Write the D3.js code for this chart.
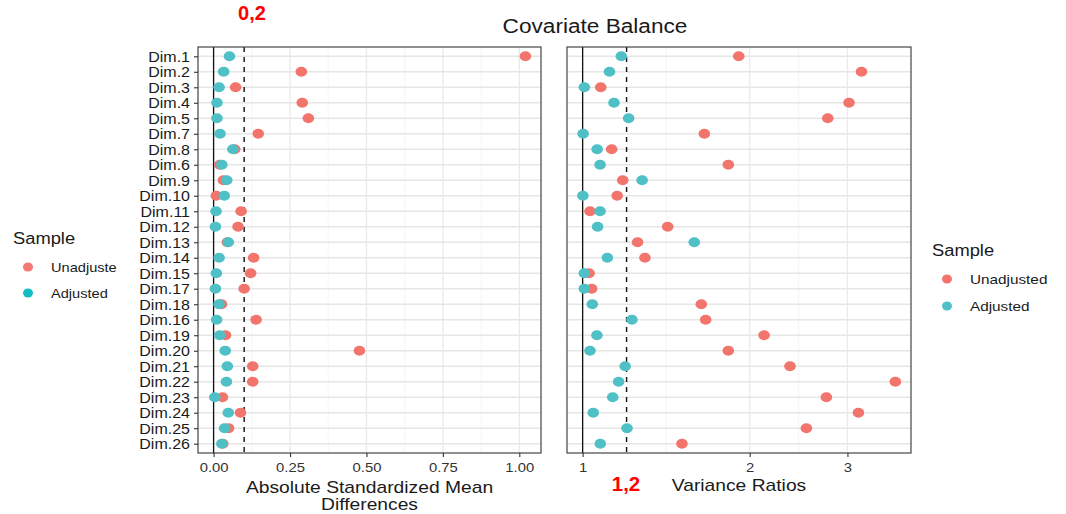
<!DOCTYPE html>
<html>
<head>
<meta charset="utf-8">
<script src="https://cdn.jsdelivr.net/npm/d3@7/dist/d3.min.js"></script>
<style>
  html, body { margin: 0; padding: 0; background: #fff; }
  svg { display: block; font-family: "Liberation Sans", Arial, Helvetica, sans-serif; }
</style>
</head>
<body>
<svg id="chart" width="1066" height="514"></svg>
<script>
// Covariates, in plotting order (top to bottom)
const dims = ["Dim.1","Dim.2","Dim.3","Dim.4","Dim.5","Dim.7","Dim.8","Dim.6","Dim.9","Dim.10",
  "Dim.11","Dim.12","Dim.13","Dim.14","Dim.15","Dim.17","Dim.18","Dim.16","Dim.19","Dim.20",
  "Dim.21","Dim.22","Dim.23","Dim.24","Dim.25","Dim.26"];

// Absolute standardized mean differences
const smdUnadjusted = [1.02,0.287,0.072,0.29,0.31,0.146,0.069,0.02,0.032,0.009,
  0.09,0.08,0.045,0.131,0.121,0.1,0.026,0.139,0.039,0.477,
  0.128,0.128,0.029,0.088,0.049,0.03];
const smdAdjusted = [0.052,0.033,0.018,0.011,0.011,0.021,0.063,0.027,0.043,0.035,
  0.008,0.006,0.048,0.018,0.009,0.006,0.018,0.01,0.02,0.038,
  0.045,0.042,0.004,0.048,0.036,0.027];

// Variance ratios
const vrUnadjusted = [1.911,3.18,1.078,3.02,2.765,1.657,1.128,1.83,1.181,1.154,
  1.031,1.423,1.256,1.295,1.027,1.038,1.636,1.666,2.123,1.83,
  2.364,3.66,2.749,3.14,2.53,1.51];
const vrAdjusted = [1.174,1.118,1.007,1.139,1.21,1.002,1.062,1.075,1.28,1.001,
  1.075,1.064,1.589,1.108,1.007,1.007,1.041,1.227,1.061,1.031,
  1.193,1.161,1.133,1.045,1.202,1.076];

const smdTicks = [0, 0.25, 0.5, 0.75, 1.0];
const vrTicks = [1, 2, 3];
const smdReference = 0, smdThreshold = 0.1;
const vrReference = 1, vrThreshold = 1.2;

const legendLeftLabels = ["Unadjuste", "Adjusted"];
const legendRightLabels = ["Unadjusted", "Adjusted"];
const titleText = "Covariate Balance";
const smdTitleLines = ["Absolute Standardized Mean", "Differences"];
const vrTitle = "Variance Ratios";
const smdNote = "0,2";
const vrNote = "1,2";

// ---- styling ----
const RED = "#F2756D", CYAN = "#4FC0C6";
const GRID = "#EBEBEB", MINOR = "#F3F3F3", BORDER = "#333333";
const SX = 1.16; // horizontal text stretch

const svg = d3.select("#chart");

function label(g, x, y, str, o = {}) {
  return g.append("text")
    .attr("transform", `translate(${x},${y}) scale(${o.sx ?? SX},1)`)
    .attr("text-anchor", o.anchor || "start")
    .attr("font-size", o.size || 13)
    .attr("font-weight", o.weight || "normal")
    .attr("fill", o.fill || "#1a1a1a")
    .text(str);
}

// Panels
const panelTop = 47, panelBottom = 453;
const L = { x0: 198, x1: 541 };
const R = { x0: 567, x1: 911 };

const y = d3.scalePoint().domain(dims).range([panelTop, panelBottom]).padding(0.6);

function expand(lo, hi, f = 0.05) { const d = (hi - lo) * f; return [lo - d, hi + d]; }

const smdAll = smdUnadjusted.concat(smdAdjusted, [smdReference, smdThreshold]);
const xL = d3.scaleLinear()
  .domain(expand(d3.min(smdAll), d3.max(smdAll)))
  .range([L.x0, L.x1]);

const vrAll = vrUnadjusted.concat(vrAdjusted, [vrReference, vrThreshold]);
const lg = expand(Math.log10(d3.min(vrAll)), Math.log10(d3.max(vrAll)));
const xR = d3.scaleLog()
  .domain([Math.pow(10, lg[0]), Math.pow(10, lg[1])])
  .range([R.x0, R.x1]);

function minorBreaks(scale, ticks, tf, inv) {
  const t = ticks.map(tf);
  const out = [];
  for (let i = 0; i < t.length - 1; i++) out.push(inv((t[i] + t[i + 1]) / 2));
  const dom = scale.domain();
  return out.filter(v => v >= dom[0] && v <= dom[1]);
}

function panel(P, x, ticks, minors, ref, thr, unadj, adj, fmt) {
  const g = svg.append("g");
  // minor vertical grid
  g.selectAll(".mn").data(minors).join("line")
    .attr("x1", d => x(d)).attr("x2", d => x(d))
    .attr("y1", panelTop).attr("y2", panelBottom)
    .attr("stroke", MINOR).attr("stroke-width", 0.8);
  // major vertical grid
  g.selectAll(".mj").data(ticks).join("line")
    .attr("x1", d => x(d)).attr("x2", d => x(d))
    .attr("y1", panelTop).attr("y2", panelBottom)
    .attr("stroke", GRID).attr("stroke-width", 1.4);
  // horizontal grid per covariate
  g.selectAll(".hz").data(dims).join("line")
    .attr("x1", P.x0).attr("x2", P.x1)
    .attr("y1", d => y(d)).attr("y2", d => y(d))
    .attr("stroke", "#E6E6E6").attr("stroke-width", 1.6);
  // reference & threshold lines
  g.append("line").attr("x1", x(ref)).attr("x2", x(ref))
    .attr("y1", panelTop).attr("y2", panelBottom)
    .attr("stroke", "#111").attr("stroke-width", 1.3);
  g.append("line").attr("x1", x(thr)).attr("x2", x(thr))
    .attr("y1", panelTop).attr("y2", panelBottom)
    .attr("stroke", "#111").attr("stroke-width", 1.4)
    .attr("stroke-dasharray", "5,5");
  // points: unadjusted first, adjusted on top
  g.selectAll(".pu").data(dims).join("ellipse")
    .attr("cx", (d, i) => x(unadj[i])).attr("cy", d => y(d))
    .attr("rx", 5.8).attr("ry", 5).attr("fill", RED);
  g.selectAll(".pa").data(dims).join("ellipse")
    .attr("cx", (d, i) => x(adj[i])).attr("cy", d => y(d))
    .attr("rx", 5.8).attr("ry", 5).attr("fill", CYAN);
  // border
  g.append("rect").attr("x", P.x0).attr("y", panelTop)
    .attr("width", P.x1 - P.x0).attr("height", panelBottom - panelTop)
    .attr("fill", "none").attr("stroke", BORDER).attr("stroke-width", 1.1);
  // bottom axis
  const ax = svg.append("g").attr("transform", `translate(0,${panelBottom})`)
    .call(d3.axisBottom(x).tickValues(ticks).tickSize(4).tickSizeOuter(0).tickFormat(fmt));
  ax.select(".domain").remove();
  ax.selectAll(".tick line").attr("stroke", BORDER).attr("stroke-width", 1.1);
  ax.selectAll(".tick text")
    .attr("y", 0).attr("dy", 0)
    .attr("transform", `translate(0,18.5) scale(${SX},1)`)
    .attr("font-size", 12.8).attr("fill", "#333")
    .attr("font-family", "Liberation Sans, Arial, sans-serif");
  return g;
}

const smdMinor = minorBreaks(xL, smdTicks, d => d, d => d);
const vrMinor = minorBreaks(xR, vrTicks, Math.log10, v => Math.pow(10, v));

panel(L, xL, smdTicks, smdMinor, smdReference, smdThreshold, smdUnadjusted, smdAdjusted, d3.format(".2f"));
panel(R, xR, vrTicks, vrMinor, vrReference, vrThreshold, vrUnadjusted, vrAdjusted, d3.format("d"));

// left axis with covariate names
const ay = svg.append("g").attr("transform", `translate(${L.x0},0)`)
  .call(d3.axisLeft(y).tickSize(4).tickSizeOuter(0));
ay.select(".domain").remove();
ay.selectAll(".tick line").attr("stroke", BORDER).attr("stroke-width", 1.1);
ay.selectAll(".tick text")
  .attr("x", 0).attr("dy", 0)
  .attr("transform", `translate(-8,5) scale(${SX},1)`)
  .attr("font-size", 13.8).attr("fill", "#1a1a1a")
  .attr("font-family", "Liberation Sans, Arial, sans-serif");

// titles
label(svg, 595, 33, titleText, { anchor: "middle", size: 19.5 });
label(svg, (L.x0 + L.x1) / 2, 493, smdTitleLines[0], { anchor: "middle", size: 16.6 });
label(svg, (L.x0 + L.x1) / 2, 510, smdTitleLines[1], { anchor: "middle", size: 16.6 });
label(svg, (R.x0 + R.x1) / 2, 491, vrTitle, { anchor: "middle", size: 16.6 });

// red annotations
label(svg, 252, 20, smdNote, { anchor: "middle", size: 20, weight: "bold", fill: "#FF0000", sx: 1 });
label(svg, 626, 491, vrNote, { anchor: "middle", size: 20.5, weight: "bold", fill: "#FF0000", sx: 1 });

// legends
function legend(x, yTitle, yItems, labels, colors, size) {
  const g = svg.append("g");
  label(g, x, yTitle, "Sample", { size: 15.8 });
  labels.forEach((t, i) => {
    g.append("ellipse").attr("cx", x + 15).attr("cy", yItems[i])
      .attr("rx", 5).attr("ry", 4.5).attr("fill", colors[i]);
    label(g, x + 38, yItems[i] + 4.6, t, { size });
  });
}
legend(13, 244, [267, 293], legendLeftLabels, ["#F47874", "#14BCC3"], 12.6);
legend(932, 256, [279, 306], legendRightLabels, [RED, CYAN], 13.2);
</script>
</body>
</html>
